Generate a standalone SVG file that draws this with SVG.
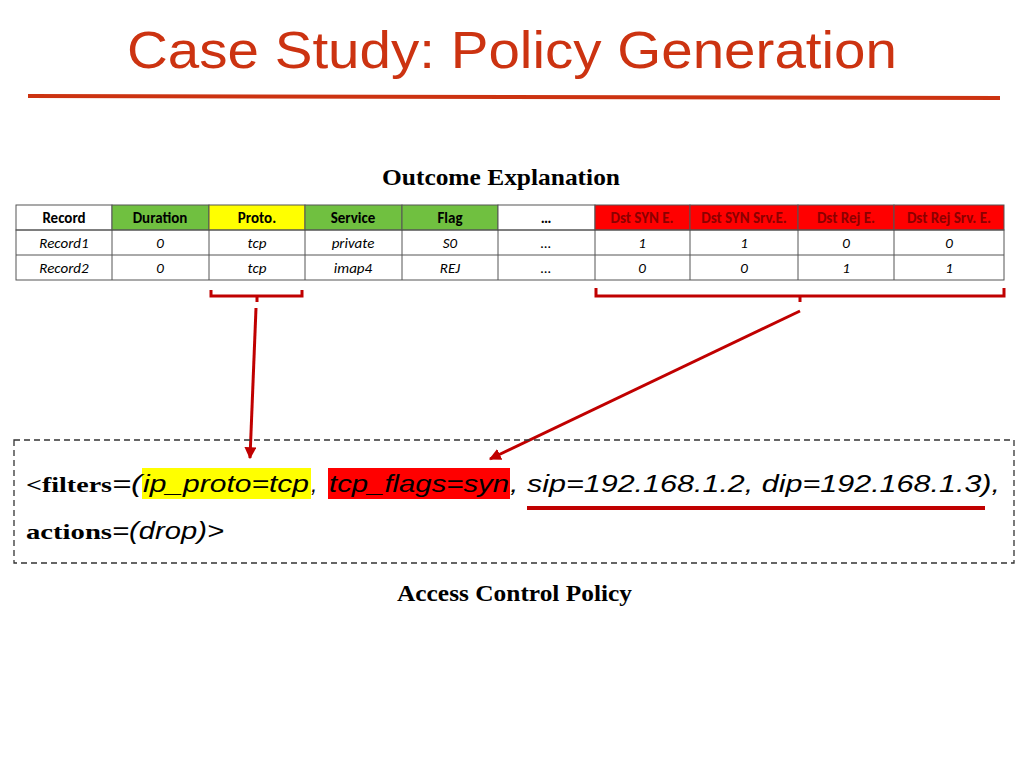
<svg xmlns="http://www.w3.org/2000/svg" width="1024" height="768" viewBox="0 0 1024 768">
<style>
.h{font-family:Carlito,Calibri,"Liberation Sans",sans-serif;font-weight:bold;font-size:15px;text-anchor:middle}
.c{font-family:Carlito,Calibri,"Liberation Sans",sans-serif;font-style:italic;font-size:15px;text-anchor:middle}
.cell{stroke:#555;stroke-width:1}
.br{fill:none;stroke:#c00000;stroke-width:3}
.s{font-family:"Liberation Serif",serif;font-weight:bold;font-size:22px}
.i{font-family:"Liberation Sans",sans-serif;font-style:italic;font-size:23px}
</style>
<defs><marker id="a" viewBox="0 0 10 10" refX="9" refY="5" markerWidth="4" markerHeight="4" orient="auto"><path d="M0,0L10,5L0,10z" fill="#c00000"/></marker></defs>
<rect width="1024" height="768" fill="#fff"/>
<text x="127" y="68" font-family="Liberation Sans,sans-serif" font-size="52" fill="#cc3311" textLength="770" lengthAdjust="spacingAndGlyphs">Case Study: Policy Generation</text>
<line x1="28" y1="96" x2="1000" y2="98" stroke="#cc3311" stroke-width="4"/>
<text x="382" y="185" font-family="Liberation Serif,serif" font-weight="bold" font-size="23" textLength="238" lengthAdjust="spacingAndGlyphs">Outcome Explanation</text>
<g id="table">
<rect x="16" y="205" width="96" height="25" fill="#fff" class="cell"/>
<rect x="112" y="205" width="97" height="25" fill="#70c040" class="cell"/>
<rect x="209" y="205" width="96" height="25" fill="#ffff00" class="cell"/>
<rect x="305" y="205" width="97" height="25" fill="#70c040" class="cell"/>
<rect x="402" y="205" width="96" height="25" fill="#70c040" class="cell"/>
<rect x="498" y="205" width="97" height="25" fill="#fff" class="cell"/>
<rect x="595" y="205" width="95" height="25" fill="#ff0000" class="cell"/>
<rect x="690" y="205" width="108" height="25" fill="#ff0000" class="cell"/>
<rect x="798" y="205" width="96" height="25" fill="#ff0000" class="cell"/>
<rect x="894" y="205" width="110" height="25" fill="#ff0000" class="cell"/>
<g fill="none" class="cell">
<rect x="16" y="230" width="988" height="50"/><line x1="16" y1="255" x2="1004" y2="255"/>
<path d="M112,230V280M209,230V280M305,230V280M402,230V280M498,230V280M595,230V280M690,230V280M798,230V280M894,230V280"/>
</g>
<text class="h" x="64" y="223">Record</text><text class="h" x="160" y="223">Duration</text><text class="h" x="257" y="223">Proto.</text><text class="h" x="353" y="223">Service</text><text class="h" x="450" y="223">Flag</text><text class="h" x="546" y="223">…</text>
<g fill="#8b0000"><text class="h" x="642" y="223">Dst SYN E.</text><text class="h" x="744" y="223">Dst SYN Srv.E.</text><text class="h" x="846" y="223">Dst Rej E.</text><text class="h" x="949" y="223">Dst Rej Srv. E.</text></g>
<text class="c" x="64" y="248">Record1</text><text class="c" x="160" y="248">0</text><text class="c" x="257" y="248">tcp</text><text class="c" x="353" y="248">private</text><text class="c" x="450" y="248">S0</text><text class="c" x="546" y="248">…</text><text class="c" x="642" y="248">1</text><text class="c" x="744" y="248">1</text><text class="c" x="846" y="248">0</text><text class="c" x="949" y="248">0</text>
<text class="c" x="64" y="273">Record2</text><text class="c" x="160" y="273">0</text><text class="c" x="257" y="273">tcp</text><text class="c" x="353" y="273">imap4</text><text class="c" x="450" y="273">REJ</text><text class="c" x="546" y="273">…</text><text class="c" x="642" y="273">0</text><text class="c" x="744" y="273">0</text><text class="c" x="846" y="273">1</text><text class="c" x="949" y="273">1</text>
</g>
<g id="connectors">
<path class="br" d="M211,290V296H302V290M257,296V302"/>
<path class="br" d="M596,288V296H1004V288M800,296V302"/>
<line x1="256" y1="308" x2="250" y2="458" stroke="#c00000" stroke-width="3" marker-end="url(#a)"/>
<line x1="800" y1="311" x2="490" y2="459" stroke="#c00000" stroke-width="3" marker-end="url(#a)"/>
<line x1="527" y1="508" x2="985" y2="508" stroke="#c00000" stroke-width="4"/>
</g>
<g id="policy">
<rect x="14" y="440" width="1000" height="123" fill="none" stroke="#333" stroke-width="1.3" stroke-dasharray="6,4"/>
<rect x="142" y="468" width="169" height="31" fill="#ffff00"/>
<rect x="328" y="468" width="182" height="31" fill="#ff0000"/>
<text class="s" x="26" y="492" textLength="86" lengthAdjust="spacingAndGlyphs">&lt;filters</text>
<text class="i" x="112" y="492" textLength="30" lengthAdjust="spacingAndGlyphs">=(</text>
<text class="i" x="143" y="492" textLength="166" lengthAdjust="spacingAndGlyphs">ip_proto=tcp</text>
<text class="i" x="311" y="492">,</text>
<text class="i" x="329" y="492" textLength="180" lengthAdjust="spacingAndGlyphs">tcp_flags=syn</text>
<text class="i" x="510" y="492" textLength="490" lengthAdjust="spacingAndGlyphs">, sip=192.168.1.2, dip=192.168.1.3),</text>
<text class="s" x="26" y="539" textLength="86" lengthAdjust="spacingAndGlyphs">actions</text>
<text class="i" x="112" y="539" textLength="112" lengthAdjust="spacingAndGlyphs">=(drop)&gt;</text>
</g>
<text x="397" y="601" font-family="Liberation Serif,serif" font-weight="bold" font-size="23" textLength="235" lengthAdjust="spacingAndGlyphs">Access Control Policy</text>
</svg>
